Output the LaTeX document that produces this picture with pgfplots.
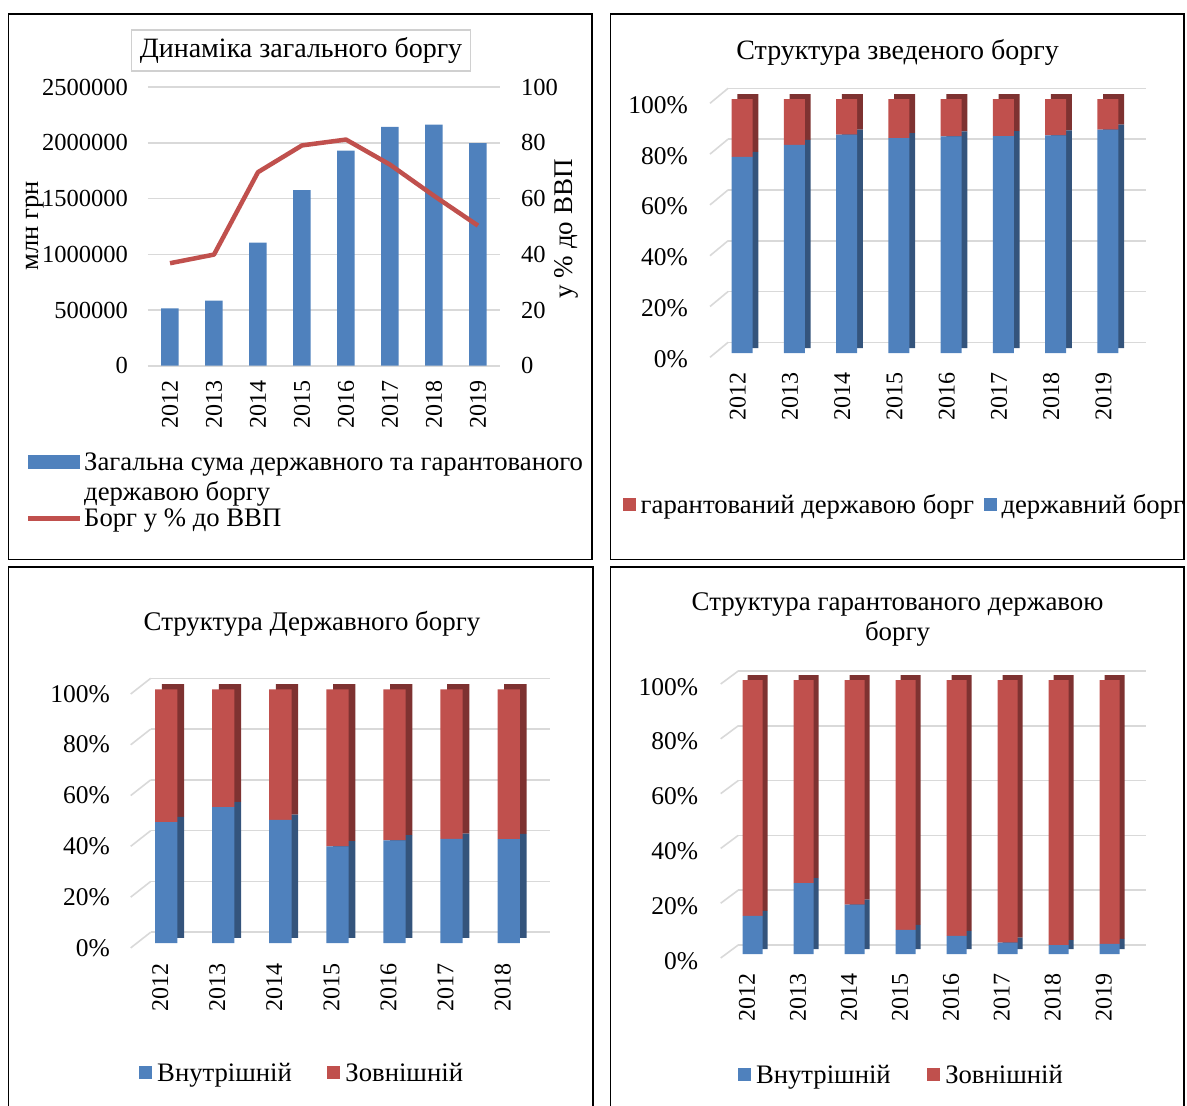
\documentclass[border=0pt]{standalone}
\usepackage{fontspec}
\setmainfont{Liberation Serif}
\usepackage{pgfplots}
\pgfplotsset{compat=1.18}

\definecolor{barblue}{HTML}{4F81BD}
\definecolor{barred}{HTML}{C0504D}
\definecolor{sideblue}{HTML}{34547C}
\definecolor{sidered}{HTML}{7E3231}
\definecolor{gridgray}{HTML}{D9D9D9}
\definecolor{boxgray}{HTML}{D0D0D0}

\newcommand{\tickfont}{\fontsize{24}{29}\selectfont}
\newcommand{\pctfont}{\fontsize{25.5}{29}\selectfont}
\newcommand{\titlefont}{\fontsize{28}{29.6}\selectfont}
\newcommand{\smalltitlefont}{\fontsize{26.9}{29.6}\selectfont}
\newcommand{\legfont}{\fontsize{26.7}{30}\selectfont}
\newcommand{\T}[1]{\textnormal{#1}}

\pgfplotsset{
  base/.style={scale only axis, anchor=south west, ymin=0, ymax=1,
    axis line style={draw=none}, major tick length=0pt,
    tick label style={font=\tickfont}},
  wall/.style={base, xtick=\empty, ytick={0,0.2,0.4,0.6,0.8,1}, yticklabels={},
    ymajorgrids, grid style={draw=gridgray, line width=1.6pt}},
  depth/.style={base, hide axis, ybar stacked},
  front/.style={base, ybar stacked,
    ytick={0,0.2,0.4,0.6,0.8,1},
    yticklabels={\T{0\%},\T{20\%},\T{40\%},\T{60\%},\T{80\%},\T{100\%}},
    every axis title/.style={font=\titlefont, align=center, anchor=center},
    legend style={draw=none, fill=none, inner sep=0pt, font=\legfont,
      legend columns=-1, anchor=west, nodes={inner xsep=0pt},
      /tikz/every odd column/.append style={column sep=5pt}},
    legend image code/.code={\fill[##1] (0pt,-6.5pt) rectangle (13pt,6.5pt);}},
  widebox legend/.style={legend image code/.code={\fill[##1] (0pt,8pt) rectangle (52pt,22pt);}},
  wideline legend/.style={legend image code/.code={\draw[##1, line width=4.5pt] (0pt,0pt) -- (52pt,0pt);}},
}

\begin{document}
\begin{tikzpicture}
\useasboundingbox (0,0) rectangle (1187pt,-1106pt);

% frames
\draw[line width=1.8pt] (8.4pt,-14pt) rectangle (592pt,-559.5pt);
\draw[line width=1.8pt] (610.5pt,-14pt) rectangle (1184pt,-559.5pt);
\draw[line width=1.8pt] (8.4pt,-567pt) rectangle (593pt,-1125pt);
\draw[line width=1.8pt] (610.5pt,-567pt) rectangle (1184pt,-1125pt);

% ---------- panel 1: total debt ----------
\begin{axis}[
  at={(148pt,-365.7pt)}, anchor=south west, scale only axis,
  width=352pt, height=278.5pt,
  xmin=-0.5, xmax=7.5, ymin=0, ymax=2500000,
  scaled y ticks=false,
  axis line style={draw=none}, major tick length=0pt,
  tick label style={font=\tickfont},
  yticklabel style={font=\fontsize{24.5}{29}\selectfont},
  xtick={0,...,7}, xticklabels={\T{2012},\T{2013},\T{2014},\T{2015},\T{2016},\T{2017},\T{2018},\T{2019}},
  xticklabel style={yshift=-14.3pt, rotate=90, anchor=east, inner sep=0pt},
  ytick={0,500000,1000000,1500000,2000000,2500000},
  yticklabels={\T{0},\T{500000},\T{1000000},\T{1500000},\T{2000000},\T{2500000}},
  yticklabel style={anchor=east, inner sep=0pt, xshift=-20pt},
  ymajorgrids, grid style={draw=gridgray, line width=1.6pt},
  ylabel={млн грн},
  every axis y label/.style={at={(rel axis cs:-0.322,0.502)}, rotate=90, anchor=center,
    font=\fontsize{26.5}{30}\selectfont},
  title={Динаміка загального боргу},
  every axis title/.style={at={(rel axis cs:0.4347,1.1325)}, anchor=center, font=\titlefont,
    draw=boxgray, line width=1.5pt, minimum width=339pt, minimum height=41pt},
  legend style={draw=none, fill=none, inner sep=0pt, font=\legfont, align=left,
    at={(rel axis cs:-0.3466,-0.3044)}, anchor=north west, nodes={inner xsep=0pt},
    /tikz/every odd column/.append style={column sep=1.5pt}, row sep=3pt},
  legend cell align=left,
]
\addplot[ybar, bar width=17.5pt, fill=barblue, draw=none, widebox legend]
  coordinates {(0,515000) (1,584000) (2,1104000) (3,1577000)
               (4,1931000) (5,2143000) (6,2165000) (7,1999000)};
\addlegendentry{Загальна сума державного та гарантованого\\державою боргу}
\addlegendimage{barred, wideline legend}
\addlegendentry{Борг у \% до ВВП}
\end{axis}

\begin{axis}[
  at={(148pt,-365.7pt)}, anchor=south west, scale only axis,
  width=352pt, height=278.5pt,
  xmin=-0.5, xmax=7.5, ymin=0, ymax=100,
  axis x line=none, axis y line*=right,
  axis line style={draw=none}, major tick length=0pt,
  tick label style={font=\fontsize{24.5}{29}\selectfont},
  ytick={0,20,40,60,80,100}, yticklabels={\T{0},\T{20},\T{40},\T{60},\T{80},\T{100}},
  yticklabel style={anchor=west, inner sep=0pt, xshift=21pt},
  ylabel={у \% до ВВП},
  every axis y label/.style={at={(rel axis cs:1.1875,0.491)}, rotate=90, anchor=center,
    font=\fontsize{27}{32}\selectfont},
]
\addplot[barred, line width=4.5pt, line join=round] coordinates {
  (0,36.8) (1,39.9) (2,69.5) (3,79.1) (4,81.2) (5,72.2) (6,61.0) (7,50.3)};
\end{axis}

% ---------- panel 2: structure of consolidated debt ----------
\begin{scope}
\clip (610.5pt,-14pt) rectangle (1184pt,-559.5pt);
\foreach \v in {0,...,5}
  \draw[gridgray, line width=1.6pt] (710pt,{-357.3pt+\v*50.8pt}) -- (728.1pt,{-342.3pt+\v*50.8pt});
\begin{axis}[wall, at={(728.1pt,-342.3pt)}, width=418pt, height=254pt, xmin=-0.5, xmax=7.5]
\end{axis}
\begin{axis}[depth, at={(721.8pt,-348pt)}, width=418pt, height=254pt, xmin=-0.5, xmax=7.5, bar width=21pt]
\addplot[fill=sideblue, draw=none] coordinates {(0,0.772) (1,0.819) (2,0.860) (3,0.846) (4,0.853) (5,0.854) (6,0.857) (7,0.879)};
\addplot[fill=sidered, draw=none] coordinates {(0,0.228) (1,0.181) (2,0.140) (3,0.154) (4,0.147) (5,0.146) (6,0.143) (7,0.121)};
\end{axis}
\begin{axis}[front, at={(716.1pt,-353pt)}, width=418pt, height=254pt, xmin=-0.5, xmax=7.5, bar width=21pt,
  xtick={0,...,7}, xticklabels={\T{2012},\T{2013},\T{2014},\T{2015},\T{2016},\T{2017},\T{2018},\T{2019}},
  xticklabel style={xshift=-4.5pt, yshift=-19pt, rotate=90, anchor=east, inner sep=0pt},
  yticklabel style={anchor=east, inner sep=0pt, xshift=-28.1pt, yshift=-6pt, font=\pctfont},
  title={Структура зведеного боргу},
  title style={at={(rel axis cs:0.4342,1.1827)}},
  legend style={at={(rel axis cs:-0.2239,-0.5965)},
    /tikz/every even column/.append style={column sep=9.5pt}},
  reverse legend,
]
\addplot[fill=barblue, draw=none] coordinates {(0,0.772) (1,0.819) (2,0.860) (3,0.846) (4,0.853) (5,0.854) (6,0.857) (7,0.879)};
\addlegendentry{державний борг}
\addplot[fill=barred, draw=none] coordinates {(0,0.228) (1,0.181) (2,0.140) (3,0.154) (4,0.147) (5,0.146) (6,0.143) (7,0.121)};
\addlegendentry{гарантований державою борг}
\end{axis}
\end{scope}

% ---------- panel 3: structure of state debt ----------
\foreach \v in {0,...,5}
  \draw[gridgray, line width=1.6pt] (130.7pt,{-947.9pt+\v*50.78pt}) -- (150.7pt,{-932.2pt+\v*50.78pt});
\begin{axis}[wall, at={(150.7pt,-932.2pt)}, width=399.5pt, height=253.9pt, xmin=-0.5, xmax=6.5]
\end{axis}
\begin{axis}[depth, at={(144.4pt,-937.9pt)}, width=399.5pt, height=253.9pt, xmin=-0.5, xmax=6.5, bar width=22.3pt]
\addplot[fill=sideblue, draw=none] coordinates {(0,0.477) (1,0.536) (2,0.486) (3,0.381) (4,0.405) (5,0.411) (6,0.410)};
\addplot[fill=sidered, draw=none] coordinates {(0,0.523) (1,0.464) (2,0.514) (3,0.619) (4,0.595) (5,0.589) (6,0.590)};
\end{axis}
\begin{axis}[front, at={(137.7pt,-943.2pt)}, width=399.5pt, height=253.9pt, xmin=-0.5, xmax=6.5, bar width=22.3pt,
  xtick={0,...,6}, xticklabels={\T{2012},\T{2013},\T{2014},\T{2015},\T{2016},\T{2017},\T{2018}},
  xticklabel style={xshift=-6pt, yshift=-20pt, rotate=90, anchor=east, inner sep=0pt},
  yticklabel style={anchor=east, inner sep=0pt, xshift=-27.7pt, yshift=-4.5pt, font=\pctfont},
  title={Структура Державного боргу},
  title style={at={(rel axis cs:0.4363,1.2588)}, font=\smalltitlefont},
  legend style={at={(rel axis cs:0.00325,-0.510)},
    /tikz/every even column/.append style={column sep=35.5pt}},
]
\addplot[fill=barblue, draw=none] coordinates {(0,0.477) (1,0.536) (2,0.486) (3,0.381) (4,0.405) (5,0.411) (6,0.410)};
\addlegendentry{Внутрішній}
\addplot[fill=barred, draw=none] coordinates {(0,0.523) (1,0.464) (2,0.514) (3,0.619) (4,0.595) (5,0.589) (6,0.590)};
\addlegendentry{Зовнішній}
\end{axis}

% ---------- panel 4: structure of guaranteed debt ----------
\foreach \v in {0,...,5}
  \draw[gridgray, line width=1.6pt] (720.7pt,{-958pt+\v*54.8pt}) -- (738.2pt,{-945pt+\v*54.8pt});
\begin{axis}[wall, at={(738.2pt,-945pt)}, width=407.8pt, height=274pt, xmin=-0.5, xmax=7.5]
\end{axis}
\begin{axis}[depth, at={(732.2pt,-949pt)}, width=407.8pt, height=274pt, xmin=-0.5, xmax=7.5, bar width=20pt]
\addplot[fill=sideblue, draw=none] coordinates {(0,0.139) (1,0.259) (2,0.180) (3,0.088) (4,0.066) (5,0.042) (6,0.032) (7,0.037)};
\addplot[fill=sidered, draw=none] coordinates {(0,0.861) (1,0.741) (2,0.820) (3,0.912) (4,0.934) (5,0.958) (6,0.968) (7,0.963)};
\end{axis}
\begin{axis}[front, at={(727.2pt,-954pt)}, width=407.8pt, height=274pt, xmin=-0.5, xmax=7.5, bar width=20pt,
  xtick={0,...,7}, xticklabels={\T{2012},\T{2013},\T{2014},\T{2015},\T{2016},\T{2017},\T{2018},\T{2019}},
  xticklabel style={xshift=-5.7pt, yshift=-19.6pt, rotate=90, anchor=east, inner sep=0pt},
  yticklabel style={anchor=east, inner sep=0pt, xshift=-28.9pt, yshift=-6.7pt, font=\pctfont},
  title={Структура гарантованого державою\\боргу},
  title style={at={(rel axis cs:0.4178,1.2208)}, font=\smalltitlefont},
  legend style={at={(rel axis cs:0.026,-0.4409)},
    /tikz/every even column/.append style={column sep=36.5pt}},
]
\addplot[fill=barblue, draw=none] coordinates {(0,0.139) (1,0.259) (2,0.180) (3,0.088) (4,0.066) (5,0.042) (6,0.032) (7,0.037)};
\addlegendentry{Внутрішній}
\addplot[fill=barred, draw=none] coordinates {(0,0.861) (1,0.741) (2,0.820) (3,0.912) (4,0.934) (5,0.958) (6,0.968) (7,0.963)};
\addlegendentry{Зовнішній}
\end{axis}
\end{tikzpicture}
\end{document}
